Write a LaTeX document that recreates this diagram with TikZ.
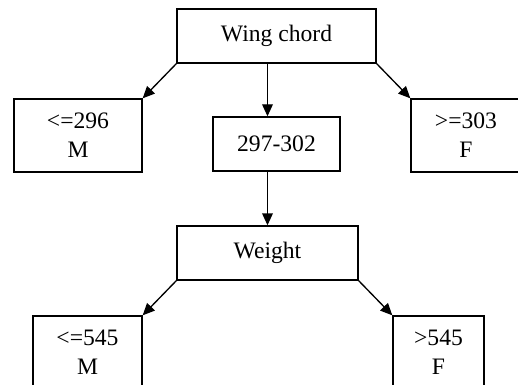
\documentclass[tikz,border=0pt]{standalone}
\usepackage{fontspec}
\setmainfont{Liberation Serif}
\usetikzlibrary{arrows.meta}
\begin{document}
\begin{tikzpicture}[x=0.75pt,y=-0.75pt,
  box/.style={draw,line width=1pt,inner sep=0pt,align=center,
    font=\fontsize{17.7}{21.75}\selectfont},
  conn/.style={line width=1pt,-{Triangle[length=9pt,width=8pt]}}]
\useasboundingbox (0,0) rectangle (518,385);
\clip (0,0) rectangle (518,385);
\node[box,minimum width=149.25pt,minimum height=40.5pt] (wc) at (276.5,36) {Wing chord};
\node[box,minimum width=96pt,minimum height=54.75pt] (l) at (78,135.5) {<=296\\M};
\node[box,minimum width=95.25pt,minimum height=40.5pt] (m) at (276.5,144) {297-302};
\node[box,minimum width=82.5pt,minimum height=54.75pt] (r) at (466,135.5) {>=303\\F};
\node[box,minimum width=135.75pt,minimum height=40.5pt] (wt) at (267.5,253) {Weight};
\node[box,minimum width=81.75pt,minimum height=54.75pt] (bl) at (87.5,352.5) {<=545\\M};
\node[box,minimum width=68.25pt,minimum height=54.75pt] (br) at (438.5,352.5) {>545\\F};
\draw[conn] (wc.south west) -- (l.north east);
\draw[conn] (wc.south east) -- (r.north west);
\draw[conn] (wc.south -| wt.north) -- (m.north -| wt.north);
\draw[conn] (m.south -| wt.north) -- (wt.north);
\draw[conn] (wt.south west) -- (bl.north east);
\draw[conn] (wt.south east) -- (br.north west);
\end{tikzpicture}
\end{document}
